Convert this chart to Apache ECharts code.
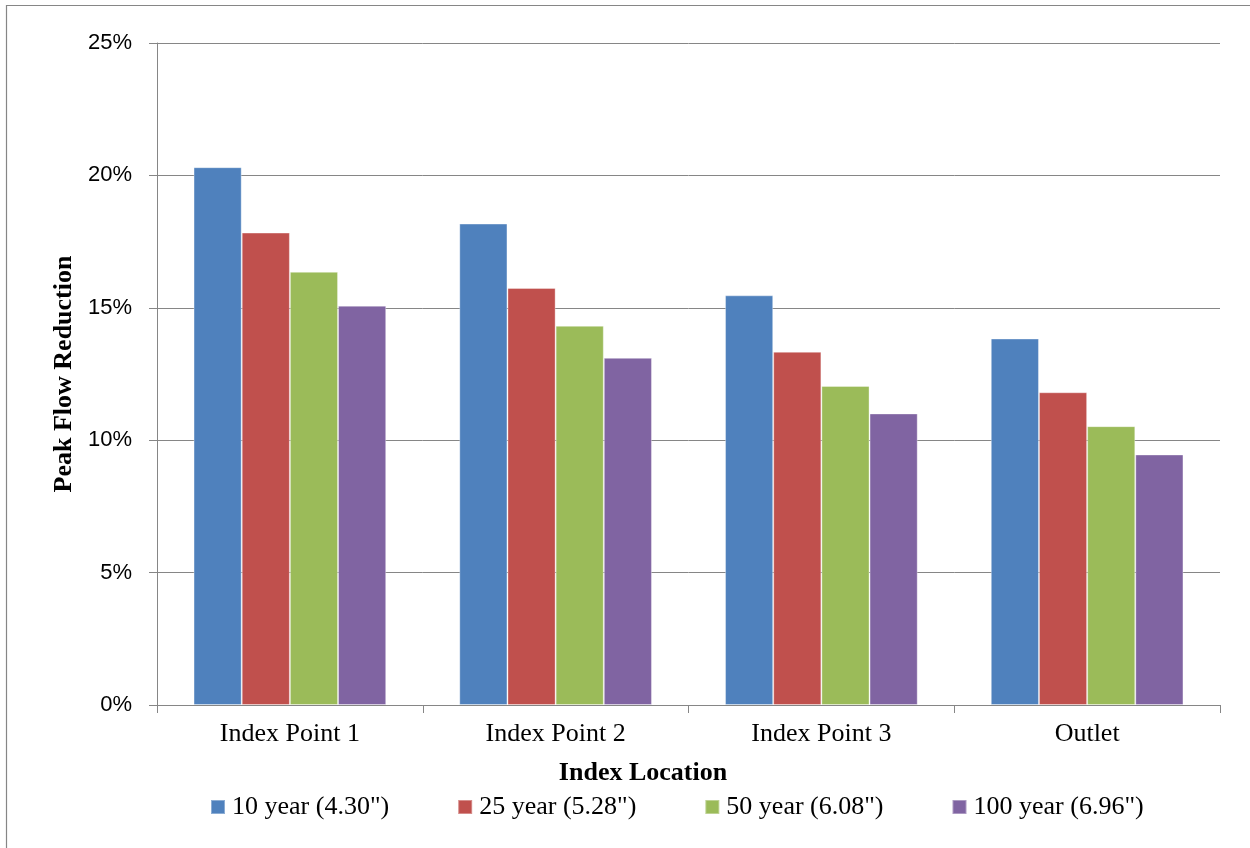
<!DOCTYPE html>
<html>
<head>
<meta charset="utf-8">
<script src="https://cdn.jsdelivr.net/npm/echarts@6/dist/echarts.min.js"></script>
<style>
html,body{margin:0;padding:0;background:#fff;}
#chart{width:1250px;height:848px;}
</style>
</head>
<body>
<div id="chart"></div>
<script>
var categories = ['Index Point 1', 'Index Point 2', 'Index Point 3', 'Outlet'];
var seriesNames = ['10 year (4.30")', '25 year (5.28")', '50 year (6.08")', '100 year (6.96")'];
var year10 = [20.31, 18.18, 15.47, 13.84];
var year25 = [17.84, 15.75, 13.34, 11.81];
var year50 = [16.36, 14.32, 12.05, 10.53];
var year100 = [15.08, 13.11, 11.01, 9.46];
var colors = ['#4F81BD', '#C0504D', '#9BBB59', '#8064A2'];

var serif = "'Liberation Serif', 'Times New Roman', serif";
var sans = "'Liberation Sans', Arial, sans-serif";
var gray = '#868686';

var chart = echarts.init(document.getElementById('chart'), null, {renderer: 'canvas'});
var allData = [year10, year25, year50, year100];
var series = allData.map(function (d, i) {
  return {
    name: seriesNames[i],
    type: 'bar',
    data: d,
    barGap: '0%',
    barCategoryGap: '27.5%',
    itemStyle: {color: colors[i], borderColor: 'rgba(255,255,255,0.35)', borderWidth: 1},
    emphasis: {disabled: true}
  };
});

chart.setOption({
  animation: false,
  color: colors,
  grid: {left: 157, right: 30, top: 43, bottom: 143, containLabel: false},
  graphic: [
    {type: 'rect', shape: {x: 6.5, y: 5.5, width: 1400, height: 1000},
     style: {fill: 'none', stroke: gray, lineWidth: 1.2}, silent: true},
    {type: 'text', x: 643, y: 773,
     style: {text: 'Index Location', font: 'bold 26px ' + serif, fill: '#000', textAlign: 'center', textVerticalAlign: 'middle'}}
  ],
  legend: {
    data: seriesNames,
    left: 210,
    top: 792,
    padding: 0,
    itemWidth: 14,
    itemHeight: 14,
    itemGap: 68,
    icon: 'rect',
    selectedMode: false,
    textStyle: {fontFamily: serif, fontSize: 26, color: '#000', lineHeight: 30, padding: [0, 0, 0, 2]}
  },
  xAxis: {
    type: 'category',
    data: categories,
    axisLine: {lineStyle: {color: gray, width: 1}},
    axisTick: {show: true, length: 8, lineStyle: {color: gray}},
    axisLabel: {fontFamily: serif, fontSize: 26, color: '#000', margin: 16}
  },
  yAxis: {
    type: 'value',
    min: 0,
    max: 25,
    interval: 5,
    name: 'Peak Flow Reduction',
    nameLocation: 'middle',
    nameGap: 78,
    nameTextStyle: {fontFamily: serif, fontSize: 26, fontWeight: 'bold', color: '#000'},
    axisLine: {show: true, lineStyle: {color: gray, width: 1}},
    axisTick: {show: true, length: 8, lineStyle: {color: gray}},
    splitLine: {lineStyle: {color: gray, width: 1}},
    axisLabel: {fontFamily: sans, fontSize: 22, color: '#000', margin: 25,
      formatter: function (v) { return v + '%'; }}
  },
  series: series
});
</script>
</body>
</html>
